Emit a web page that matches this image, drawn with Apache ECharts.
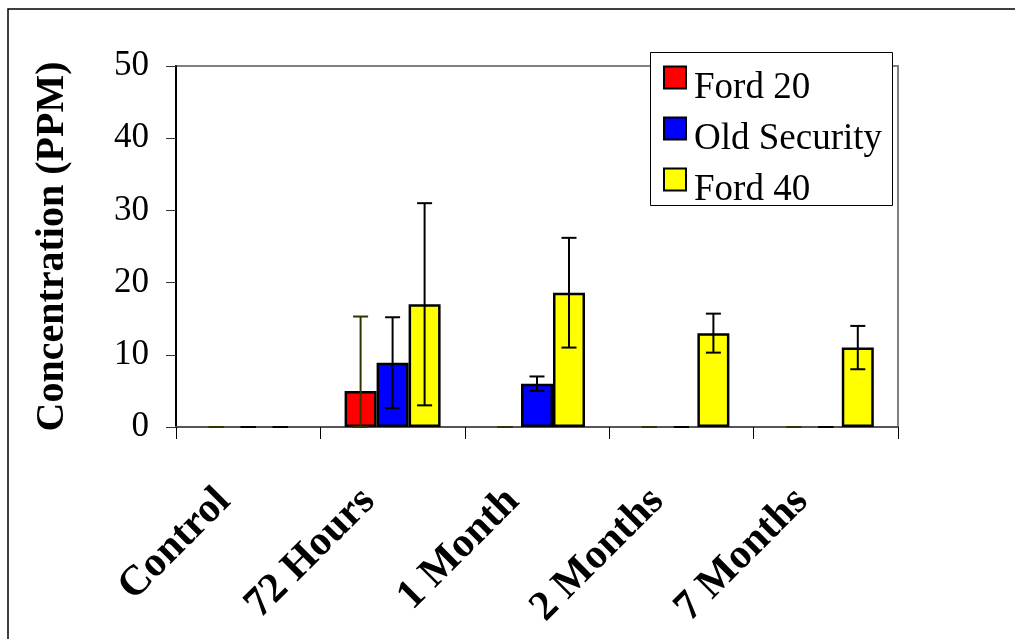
<!DOCTYPE html>
<html>
<head>
<meta charset="utf-8">
<script src="https://cdn.jsdelivr.net/npm/echarts@6/dist/echarts.min.js"></script>
<style>
html,body{margin:0;padding:0;background:#fff;}
#chart{width:1015px;height:639px;}
</style>
</head>
<body>
<div id="chart"></div>
<script>
// ---- data ----
const categories = ['Control', '72 Hours', '1 Month', '2 Months', '7 Months'];
const seriesNames = ['Ford 20', 'Old Security', 'Ford 40'];
const ford20 = [0, 5.0, 0, 0, 0];
const oldSecurity = [0, 8.9, 6.0, 0, 0];
const ford40 = [0, 17.0, 18.6, 13.0, 11.0];
const ford20Err = [0, 10.3, 0, 0, 0];
const oldSecurityErr = [0, 6.3, 1.0, 0, 0];
const ford40Err = [0, 14.0, 7.6, 2.7, 3.0];
const yTicks = [0, 10, 20, 30, 40, 50];

// ---- styles ----
const FONT = 'Liberation Serif, Times New Roman, serif';
const colors = ['#ff0000', '#0000ff', '#ffff00'];
const errColors = ['#333300', '#000000', '#000000'];
const BAR_W = 32;

const values = [ford20, oldSecurity, ford40];
const errs = [ford20Err, oldSecurityErr, ford40Err];

const chart = echarts.init(document.getElementById('chart'));

const barSeries = values.map((vals, k) => ({
  name: seriesNames[k],
  type: 'bar',
  barWidth: BAR_W,
  barGap: '0%',
  itemStyle: { color: colors[k], borderColor: '#000', borderWidth: 2.5 },
  data: vals.map(v => v === 0 ? { value: v, itemStyle: { borderWidth: 0 } } : v),
  z: 2
}));

const errSeries = errs.map((ev, k) => ({
  type: 'custom',
  name: seriesNames[k] + ' err',
  z: 5,
  data: ev.map((e, i) => [i, Math.max(0, values[k][i] - e), values[k][i] + e]),
  encode: { x: 0, y: [1, 2] },
  renderItem: function (params, api) {
    const i = api.value(0);
    const lo = api.coord([i, api.value(1)]);
    const hi = api.coord([i, api.value(2)]);
    const cx = lo[0] + (k - 1) * BAR_W;
    const half = 7.5;
    const st = { stroke: errColors[k], lineWidth: 2 };
    return {
      type: 'group',
      children: [
        { type: 'line', shape: { x1: cx, y1: lo[1], x2: cx, y2: hi[1] }, style: st },
        { type: 'line', shape: { x1: cx - half, y1: hi[1], x2: cx + half, y2: hi[1] }, style: st },
        { type: 'line', shape: { x1: cx - half, y1: lo[1], x2: cx + half, y2: lo[1] }, style: st }
      ]
    };
  }
}));

chart.setOption({
  animation: false,
  backgroundColor: '#fff',
  textStyle: { fontFamily: FONT },
  graphic: [{
    type: 'rect',
    shape: { x: 8, y: 9, width: 1020, height: 640 },
    style: { fill: 'none', stroke: '#000', lineWidth: 1.5 },
    z: -1
  }, {
    type: 'rect',
    shape: { x: 650.5, y: 52.5, width: 242, height: 153 },
    style: { fill: '#fff', stroke: '#000', lineWidth: 1 },
    z: 8
  }],
  grid: {
    left: 176, right: 117, top: 66, bottom: 212,
    show: true, borderColor: '#808080', borderWidth: 2, backgroundColor: 'transparent'
  },
  legend: {
    data: seriesNames,
    orient: 'vertical',
    left: 663, top: 48,
    padding: 0,
    icon: 'rect',
    itemWidth: 22, itemHeight: 22, itemGap: -8,
    formatter: '{t|{name}}',
    textStyle: {
      fontFamily: FONT, fontSize: 37, color: '#000',
      rich: { t: { fontFamily: FONT, fontSize: 37, color: '#000', lineHeight: 24, padding: [22, 0, 0, 3] } }
    },
    itemStyle: { borderColor: '#000', borderWidth: 2 },
    z: 10
  },
  xAxis: {
    type: 'category',
    data: categories,
    axisLine: { lineStyle: { color: '#555', width: 2 } },
    axisTick: { show: true, length: 12, lineStyle: { color: '#000', width: 1 } },
    axisLabel: {
      rotate: 45, fontFamily: FONT, fontWeight: 'bold', fontSize: 42, color: '#000',
      margin: 44, interval: 0, padding: [0, 34, 0, 0]
    }
  },
  yAxis: {
    type: 'value',
    min: yTicks[0], max: yTicks[yTicks.length - 1], interval: 10,
    name: 'Concentration (PPM)',
    nameLocation: 'middle',
    nameGap: 103,
    nameTextStyle: { fontFamily: FONT, fontWeight: 'bold', fontSize: 40, color: '#000' },
    axisLine: { show: true, lineStyle: { color: '#000', width: 2 } },
    axisTick: { show: true, length: 10, lineStyle: { color: '#333', width: 1 } },
    axisLabel: { fontFamily: FONT, fontSize: 35, color: '#000', margin: 27 },
    splitLine: { show: false }
  },
  series: barSeries.concat(errSeries)
});
</script>
</body>
</html>
